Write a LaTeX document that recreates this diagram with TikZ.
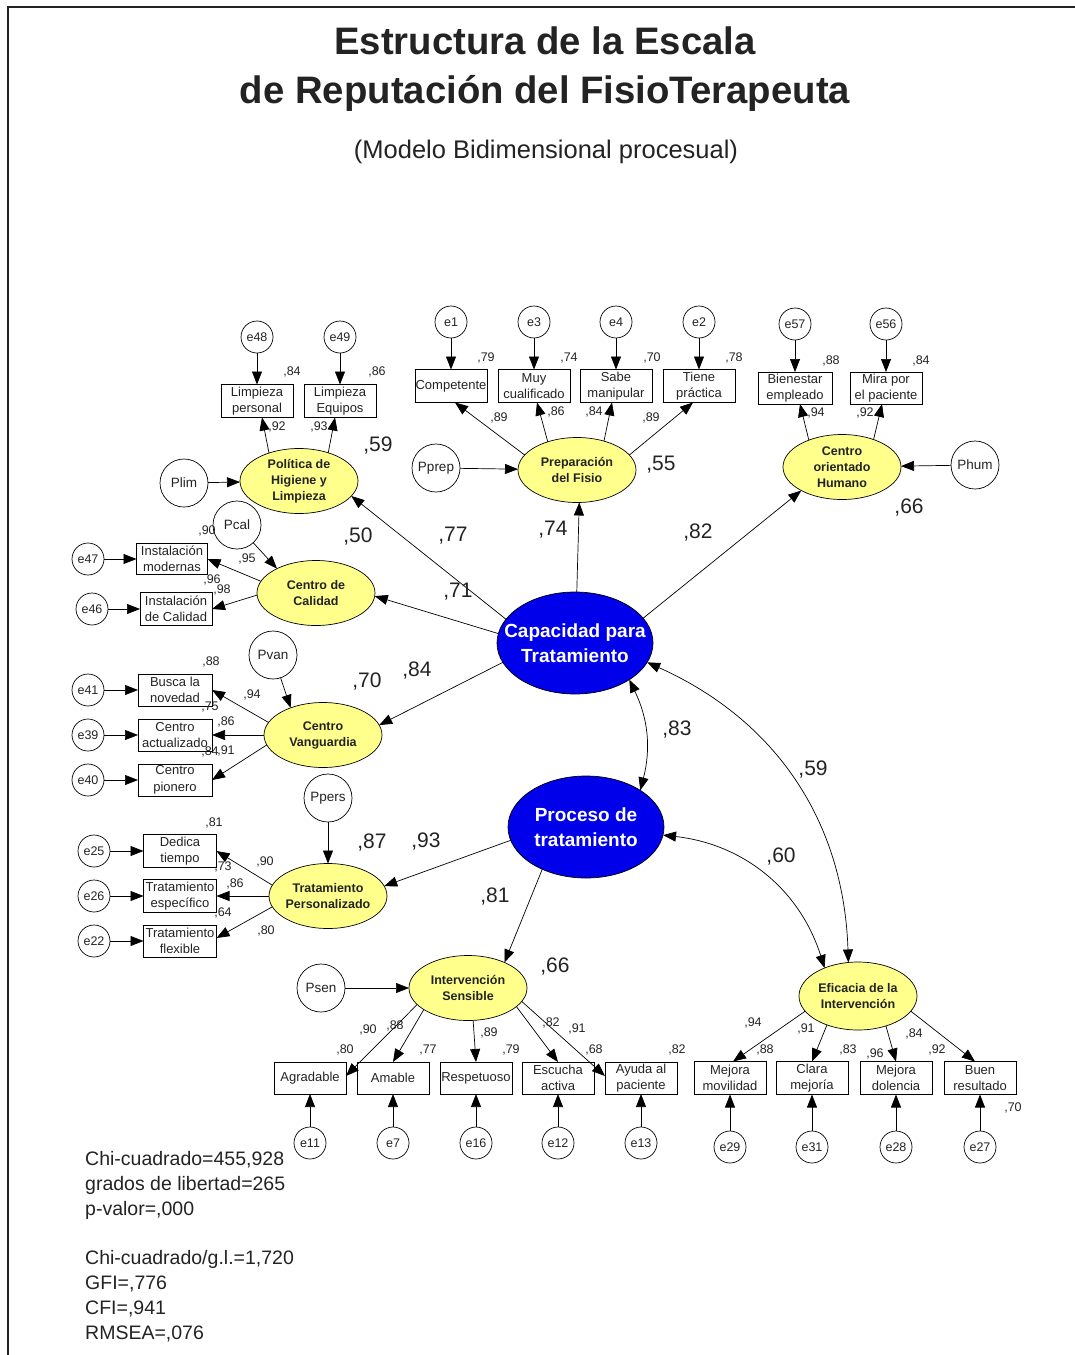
\documentclass[tikz,border=0pt]{standalone}
\usepackage{fontspec}
\setmainfont{Liberation Sans}
\usetikzlibrary{arrows.meta,shapes.geometric}
\definecolor{latyellow}{RGB}{255,255,140}
\definecolor{latblue}{RGB}{0,0,235}
\definecolor{ink}{RGB}{35,35,35}

\tikzset{
  lat/.style={ellipse, draw, fill=latyellow, line width=0.7pt, minimum width=118pt, minimum height=65pt,
    inner xsep=-3pt, inner ysep=0pt, outer sep=0pt, align=center, text=ink, font=\fontsize{12.5}{16}\selectfont\bfseries},
  higher/.style={ellipse, draw, fill=latblue, line width=0.7pt, minimum width=156pt, minimum height=102pt,
    inner xsep=-18pt, inner ysep=0pt, outer sep=0pt, align=center, text=white, font=\fontsize{19}{25}\selectfont\bfseries},
  obs/.style={rectangle, draw, line width=0.7pt, minimum width=72pt, minimum height=33pt, inner sep=0pt,
    outer sep=0pt, align=center, text=ink, font=\fontsize{13}{16.5}\selectfont},
  err/.style={circle, draw, line width=0.7pt, minimum size=32pt, inner sep=0pt, outer sep=0pt, text=ink,
    font=\fontsize{12.5}{14}\selectfont},
  dist/.style={circle, draw, line width=0.7pt, minimum size=48pt, inner sep=0pt, outer sep=0pt, text=ink,
    font=\fontsize{13.5}{15}\selectfont},
  arr/.style={-{Triangle[length=13pt,width=10pt]}, line width=0.7pt},
  darr/.style={{Triangle[length=13pt,width=10pt]}-{Triangle[length=13pt,width=10pt]}, line width=0.7pt},
  lab/.style={inner sep=0pt, text=ink, font=\fontsize{12.5}{14}\selectfont},
  biglab/.style={inner sep=0pt, text=ink, font=\fontsize{21}{24}\selectfont},
  stat/.style={anchor=west, inner sep=0pt, text=ink, font=\fontsize{19.5}{24}\selectfont},
  headline/.style={text=ink, inner sep=0pt, font=\fontsize{38.3}{42}\selectfont\bfseries},
}

\begin{document}
\begin{tikzpicture}[x=1pt,y=-1pt]
\useasboundingbox (0,0) rectangle (1075,1355);
% frame
\draw[line width=1.4pt, ink] (8,1355) -- (8,7) -- (1075,7);

% titles
\node[headline] (title1) at (545,41) {Estructura de la Escala};
\node[headline] (title2) at (545,93) {de Reputación del FisioTerapeuta};
\node[text=ink, inner sep=0pt, font=\fontsize{25.5}{28}\selectfont] (title3) at (546,152) {(Modelo Bidimensional procesual)};

% second-order factors
\node[higher] (cap) at (575,643) {Capacidad para\\Tratamiento};
\node[higher] (pro) at (586,827) {Proceso de\\tratamiento};

% first-order factors
\node[lat] (pol) at (299,481) {Política de\\Higiene y\\Limpieza};
\node[lat] (prep) at (577,470) {Preparación\\del Fisio};
\node[lat] (hum) at (842,467) {Centro\\orientado\\Humano};
\node[lat] (cal) at (316,593) {Centro de\\Calidad};
\node[lat] (van) at (323,735) {Centro\\Vanguardia};
\node[lat] (per) at (328,896) {Tratamiento\\Personalizado};
\node[lat] (sen) at (468,988) {Intervención\\Sensible};
\node[lat, minimum height=68pt] (efi) at (858,996) {Eficacia de la\\Intervención};

% disturbances
\node[dist] (plim) at (184,483) {Plim};
\node[dist] (pprep) at (436,468) {Pprep};
\node[dist] (phum) at (975,465) {Phum};
\node[dist] (pcal) at (237,525) {Pcal};
\node[dist] (pvan) at (273,655) {Pvan};
\node[dist] (ppers) at (328,798) {Ppers};
\node[dist] (psen) at (321,988) {Psen};

% indicators: Política de Higiene y Limpieza
\node[obs] (lp) at (257,401) {Limpieza\\personal};
\node[obs] (le) at (340,401) {Limpieza\\Equipos};
\node[err] (e48) at (257,337) {e48};
\node[err] (e49) at (340,337) {e49};

% indicators: Preparación del Fisio
\node[obs] (comp) at (451,386) {Competente};
\node[obs] (cual) at (534,386) {Muy\\cualificado};
\node[obs] (man) at (616,386) {Sabe\\manipular};
\node[obs] (pra) at (699,386) {Tiene\\práctica};
\node[err] (e1) at (451,322) {e1};
\node[err] (e3) at (534,322) {e3};
\node[err] (e4) at (616,322) {e4};
\node[err] (e2) at (699,322) {e2};

% indicators: Centro orientado Humano
\node[obs, minimum width=74pt, minimum height=32pt] (bien) at (795,388) {Bienestar\\empleado};
\node[obs, minimum width=72pt, minimum height=32pt] (mira) at (886,388) {Mira por\\el paciente};
\node[err] (e57) at (795,324) {e57};
\node[err] (e56) at (886,324) {e56};

% indicators: Centro de Calidad
\node[obs, minimum width=71pt, minimum height=31pt] (mod) at (172,559) {Instalación\\modernas};
\node[obs] (icl) at (176,609) {Instalación\\de Calidad};
\node[err] (e47) at (88,559) {e47};
\node[err] (e46) at (92,609) {e46};

% indicators: Centro Vanguardia
\node[obs, minimum width=74pt, minimum height=32pt] (bus) at (175,690) {Busca la\\novedad};
\node[obs, minimum width=74pt, minimum height=32pt] (act) at (175,735) {Centro\\actualizado};
\node[obs, minimum width=74pt, minimum height=32pt] (pio) at (175,780) {Centro\\pionero};
\node[err] (e41) at (88,690) {e41};
\node[err] (e39) at (88,735) {e39};
\node[err] (e40) at (88,780) {e40};

% indicators: Tratamiento Personalizado
\node[obs, minimum width=73pt] (ded) at (180,851) {Dedica\\tiempo};
\node[obs, minimum width=73pt] (esp) at (180,896) {Tratamiento\\específico};
\node[obs, minimum width=73pt, minimum height=32pt] (fle) at (180,941) {Tratamiento\\flexible};
\node[err] (e25) at (94,851) {e25};
\node[err] (e26) at (94,896) {e26};
\node[err] (e22) at (94,941) {e22};

% indicators: Intervención Sensible
\node[obs, minimum height=32pt] (agr) at (310,1078) {Agradable};
\node[obs, minimum height=32pt] (ama) at (393,1078) {Amable};
\node[obs, minimum height=32pt] (res) at (476,1078) {Respetuoso};
\node[obs, minimum height=32pt] (esc) at (558,1078) {Escucha\\activa};
\node[obs, minimum height=32pt] (ayu) at (641,1078) {Ayuda al\\paciente};
\node[err] (e11) at (310,1143) {e11};
\node[err] (e7) at (393,1143) {e7};
\node[err] (e16) at (476,1143) {e16};
\node[err] (e12) at (558,1143) {e12};
\node[err] (e13) at (641,1143) {e13};

% indicators: Eficacia de la Intervención
\node[obs] (mov) at (730,1078) {Mejora\\movilidad};
\node[obs] (cla) at (812,1078) {Clara\\mejoría};
\node[obs] (dol) at (896,1078) {Mejora\\dolencia};
\node[obs] (bue) at (980,1078) {Buen\\resultado};
\node[err] (e29) at (730,1147) {e29};
\node[err] (e31) at (812,1147) {e31};
\node[err] (e28) at (896,1147) {e28};
\node[err] (e27) at (980,1147) {e27};

% ---- paths ----
% Política
\draw[arr] (e48) -- (lp);
\draw[arr] (e49) -- (le);
\draw[arr] (pol.137) -- ([xshift=5pt]lp.south);
\draw[arr] (pol.44) -- ([xshift=-5pt]le.south);
\draw[arr] (plim) -- (pol);
% Preparación
\draw[arr] (e1) -- (comp);
\draw[arr] (e3) -- (cual);
\draw[arr] (e4) -- (man);
\draw[arr] (e2) -- (pra);
\draw[arr] (prep.164) -- ([xshift=4pt]comp.south);
\draw[arr] (prep.136) -- ([xshift=3pt]cual.south);
\draw[arr] (prep.47) -- ([xshift=-4pt]man.south);
\draw[arr] (prep.16) -- ([xshift=-6pt]pra.south);
\draw[arr] (pprep) -- (prep);
% Humano
\draw[arr] (e57) -- (bien);
\draw[arr] (e56) -- (mira);
\draw[arr] (hum.141) -- ([xshift=5pt]bien.south);
\draw[arr] (hum.41) -- ([xshift=-4pt]mira.south);
\draw[arr] (phum) -- (hum);
% Capacidad para Tratamiento
\draw[arr] (cap.161) -- (pol.-16);
\draw[arr] (cap.173) -- (cal.-3);
\draw[arr] (cap.88) -- (prep.-86);
\draw[arr] (cap.20) -- (hum.210);
\draw[arr] (cap.195) -- (van.10);
\draw[darr] (cap.-34) to[bend left=20] (pro.34);
\draw[darr] (cap.-15) to[bend left=32] (efi.106);
% Proceso de tratamiento
\draw[arr] (pro.190) -- (per.10);
\draw[arr] (pro.224) -- (sen.35);
\draw[darr] (pro.-6) to[bend left=33] (efi.140);
% Calidad
\draw[arr] (pcal) -- (cal.148);
\draw[arr] (e47) -- (mod);
\draw[arr] (e46) -- (icl);
\draw[arr] (cal.168) -- (mod.east);
\draw[arr] (cal.182) -- (icl.east);
% Vanguardia
\draw[arr] (pvan) -- (van.140);
\draw[arr] (e41) -- (bus);
\draw[arr] (e39) -- (act);
\draw[arr] (e40) -- (pio);
\draw[arr] (van.167) -- (bus.east);
\draw[arr] (van.west) -- (act.east);
\draw[arr] (van.190) -- (pio.east);
% Personalizado
\draw[arr] (ppers) -- (per);
\draw[arr] (e25) -- (ded);
\draw[arr] (e26) -- (esp);
\draw[arr] (e22) -- (fle);
\draw[arr] (per.169) -- (ded.east);
\draw[arr] (per.west) -- (esp.east);
\draw[arr] (per.191) -- ([yshift=3pt]fle.east);
% Sensible
\draw[arr] (psen) -- (sen);
\draw[arr] (sen.198) -- ([yshift=2pt]agr.east);
\draw[arr] (sen.206) -- (ama.north);
\draw[arr] (sen.-81) -- (res.north);
\draw[arr] (sen.-21) -- (esc.north);
\draw[arr] (sen.-14) -- ([yshift=2pt]ayu.west);
\draw[arr] (e11) -- (agr);
\draw[arr] (e7) -- (ama);
\draw[arr] (e16) -- (res);
\draw[arr] (e12) -- (esc);
\draw[arr] (e13) -- (ayu);
% Eficacia
\draw[arr] (efi.196) -- ([xshift=3pt]mov.north);
\draw[arr] (efi.223) -- (cla.north);
\draw[arr] (efi.-47) -- (dol.north);
\draw[arr] (efi.-16) -- ([xshift=-5pt]bue.north);
\draw[arr] (e29) -- (mov);
\draw[arr] (e31) -- (cla);
\draw[arr] (e28) -- (dol);
\draw[arr] (e27) -- (bue);

% ---- estimates ----
% Política
\node[lab] (r84a) at (292,372) {,84};
\node[lab] (r86a) at (377,372) {,86};
\node[lab] (w92a) at (277,427) {,92};
\node[lab] (w93a) at (319,427) {,93};
\node[biglab] (r59a) at (378,446) {,59};
% Preparación
\node[lab] (r79a) at (486,358) {,79};
\node[lab] (r74a) at (569,358) {,74};
\node[lab] (r70a) at (652,358) {,70};
\node[lab] (r78a) at (734,358) {,78};
\node[lab] (w89a) at (499,418) {,89};
\node[lab] (w86a) at (556,412) {,86};
\node[lab] (w84a) at (594,412) {,84};
\node[lab] (w89b) at (651,418) {,89};
\node[biglab] (r55a) at (661,465) {,55};
% Humano
\node[lab] (r88a) at (831,361) {,88};
\node[lab] (r84b) at (921,361) {,84};
\node[lab] (w94a) at (816,413) {,94};
\node[lab] (w92b) at (865,413) {,92};
\node[biglab] (r66a) at (909,508) {,66};
% Calidad
\node[lab] (r90a) at (207,531) {,90};
\node[lab] (w95a) at (247,559) {,95};
\node[lab] (w96a) at (212,580) {,96};
\node[lab] (r98a) at (222,590) {,98};
\node[biglab] (r50a) at (358,537) {,50};
% Vanguardia
\node[lab] (r88b) at (211,662) {,88};
\node[lab] (w94b) at (252,695) {,94};
\node[lab] (r75a) at (210,707) {,75};
\node[lab] (w86b) at (226,722) {,86};
\node[lab] (r84c) at (210,752) {,84};
\node[lab] (w91a) at (226,751) {,91};
\node[biglab] (r70b) at (367,682) {,70};
\node[biglab] (g84a) at (417,671) {,84};
% Personalizado
\node[lab] (r81a) at (214,823) {,81};
\node[lab] (w90a) at (265,862) {,90};
\node[lab] (r73a) at (223,867) {,73};
\node[lab] (w86c) at (235,884) {,86};
\node[lab] (r64a) at (223,913) {,64};
\node[lab] (w80a) at (266,931) {,80};
\node[biglab] (r87a) at (372,843) {,87};
\node[biglab] (g93a) at (426,842) {,93};
% second-order paths and correlations
\node[biglab] (g77a) at (453,536) {,77};
\node[biglab] (g74a) at (553,530) {,74};
\node[biglab] (g82a) at (698,533) {,82};
\node[biglab] (g71a) at (458,592) {,71};
\node[biglab] (c83a) at (677,730) {,83};
\node[biglab] (c59a) at (813,770) {,59};
\node[biglab] (c60a) at (781,857) {,60};
\node[biglab] (g81a) at (495,896) {,81};
% Sensible
\node[biglab] (r66b) at (555,966) {,66};
\node[lab] (w90b) at (368,1030) {,90};
\node[lab] (w88a) at (395,1026) {,88};
\node[lab] (r80a) at (345,1050) {,80};
\node[lab] (r77a) at (428,1050) {,77};
\node[lab] (w89c) at (489,1033) {,89};
\node[lab] (r79b) at (511,1050) {,79};
\node[lab] (w82a) at (551,1023) {,82};
\node[lab] (w91b) at (577,1029) {,91};
\node[lab] (r68a) at (594,1050) {,68};
\node[lab] (r82a) at (677,1050) {,82};
% Eficacia
\node[lab] (w94c) at (753,1023) {,94};
\node[lab] (w91c) at (806,1029) {,91};
\node[lab] (r88c) at (765,1050) {,88};
\node[lab] (r83a) at (848,1050) {,83};
\node[lab] (r96a) at (875,1054) {,96};
\node[lab] (w84b) at (914,1034) {,84};
\node[lab] (r92a) at (937,1050) {,92};
\node[lab] (r70c) at (1013,1108) {,70};

% ---- fit indices ----
\node[stat] (s1) at (85,1160) {Chi-cuadrado=455,928};
\node[stat] (s2) at (85,1185) {grados de libertad=265};
\node[stat] (s3) at (85,1210) {p-valor=,000};
\node[stat] (s4) at (85,1259) {Chi-cuadrado/g.l.=1,720};
\node[stat] (s5) at (85,1284) {GFI=,776};
\node[stat] (s6) at (85,1309) {CFI=,941};
\node[stat] (s7) at (85,1334) {RMSEA=,076};
\end{tikzpicture}
\end{document}
